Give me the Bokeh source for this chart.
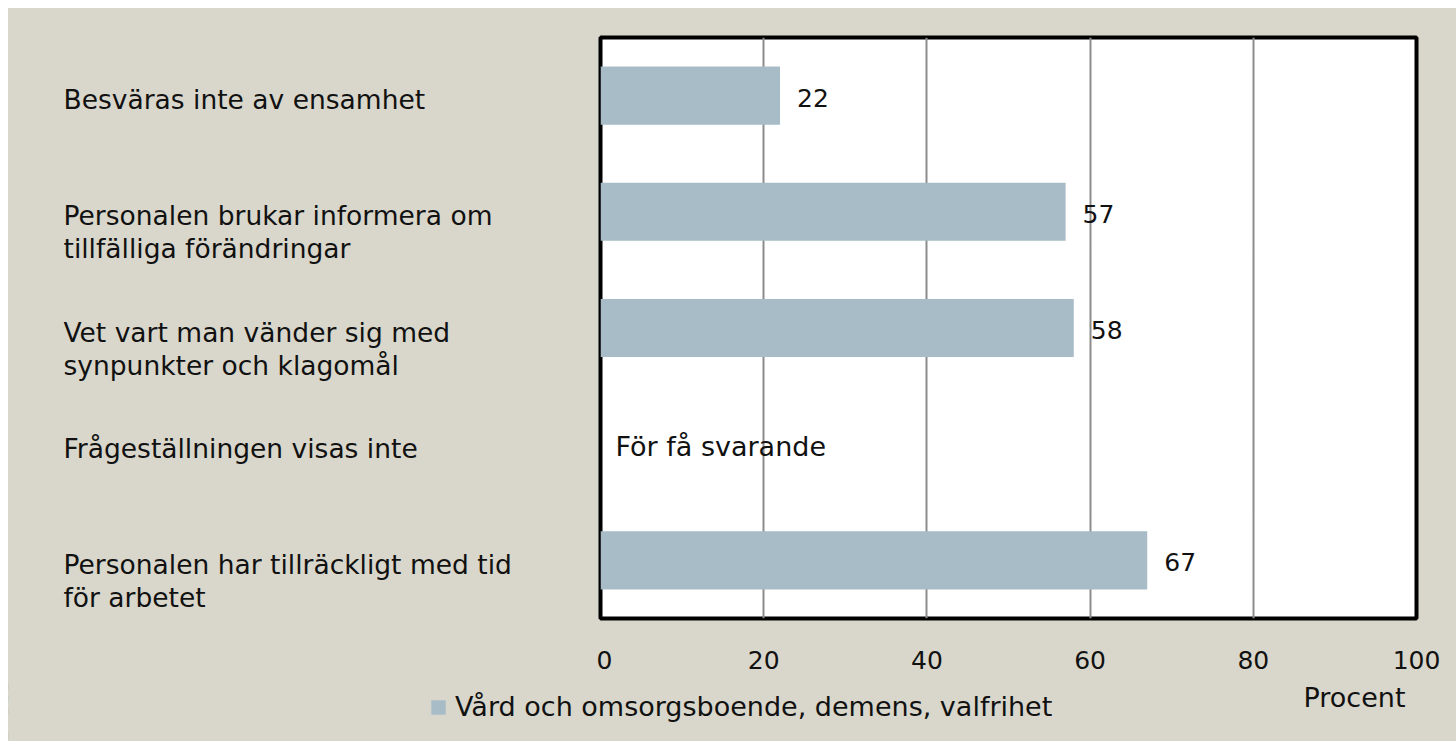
from bokeh.plotting import figure
from bokeh.models import (FactorRange, Range1d, Label, ColumnDataSource,
                          Legend, LegendItem, FixedTicker, Spacer)
from bokeh.layouts import row, column
from bokeh.embed import file_html
from bokeh.resources import INLINE
from bokeh.core.properties import value

# ---- data ----
categories = [
    "Besväras inte av ensamhet",
    "Personalen brukar informera om\ntillfälliga förändringar",
    "Vet vart man vänder sig med\nsynpunkter och klagomål",
    "Frågeställningen visas inte",
    "Personalen har tillräckligt med tid\nför arbetet",
]
values = [22, 57, 58, None, 67]
notes = ["", "", "", "För få svarande", ""]
x_ticks = [0, 20, 40, 60, 80, 100]
series_name = "Vård och omsorgsboende, demens, valfrihet"
x_unit = "Procent"

# ---- style ----
FONT = "DejaVu Sans"
BG = "#D9D7CB"
BAR = "#A7BCC7"
TXT = "#111111"
CAT_SIZE = "26.5px"
TEXT_SIZE = "27px"
NUM_SIZE = "25px"

y_range = FactorRange(factors=list(reversed(categories)), range_padding=0)

bar_src = ColumnDataSource(dict(
    y=[c for c, v in zip(categories, values) if v is not None],
    v=[v for v in values if v is not None],
    t=[str(v) for v in values if v is not None],
))

# ---- main chart ----
p = figure(width=860, height=672, output_backend="svg", toolbar_location=None,
           y_range=y_range, x_range=Range1d(0, 100),
           min_border_left=4, min_border_right=40, min_border_top=29,
           min_border_bottom=62)
p.background_fill_color = "white"
p.border_fill_color = BG
p.outline_line_color = "black"
p.outline_line_width = 4

r = p.hbar(y="y", right="v", left=0, height=0.5, source=bar_src,
           fill_color=BAR, line_color=None)
p.text(x="v", y="y", text="t", source=bar_src, x_offset=17, y_offset=2,
       text_baseline="middle", text_align="left", text_font=value(FONT),
       text_font_size=NUM_SIZE, text_color=TXT)

note_src = ColumnDataSource(dict(
    y=[c for c, n in zip(categories, notes) if n],
    t=[n for n in notes if n],
    x=[0 for n in notes if n],
))
p.text(x="x", y="y", text="t", source=note_src, x_offset=15, y_offset=2,
       text_baseline="middle", text_align="left", text_font=value(FONT),
       text_font_size=TEXT_SIZE, text_color=TXT)

p.yaxis.visible = False
p.xaxis.ticker = FixedTicker(ticks=x_ticks)
p.xaxis.axis_line_color = None
p.xaxis.major_tick_line_color = None
p.xaxis.minor_tick_line_color = None
p.xaxis.major_label_text_font = FONT
p.xaxis.major_label_text_font_size = NUM_SIZE
p.xaxis.major_label_text_color = TXT
p.xaxis.major_label_standoff = 26
p.xgrid.ticker = FixedTicker(ticks=x_ticks[1:-1])
p.xgrid.grid_line_color = "#8C8C8C"
p.xgrid.grid_line_width = 2
p.ygrid.grid_line_color = None

# ---- category labels (left) ----
ly, lt, lo = [], [], []
for c in categories:
    for j, line in enumerate(c.split("\n")):
        ly.append(c)
        lt.append(line)
        lo.append(4 + 33 * j)
lab_src = ColumnDataSource(dict(y=ly, t=lt, o=lo, x=[0] * len(ly)))
pl = figure(width=588, height=672, output_backend="svg", toolbar_location=None,
            y_range=y_range, x_range=Range1d(0, 1),
            min_border_left=55, min_border_right=0, min_border_top=29,
            min_border_bottom=62)
pl.text(x="x", y="y", text="t", source=lab_src, y_offset="o",
        text_baseline="middle", text_align="left", text_font=value(FONT),
        text_font_size=CAT_SIZE, text_color=TXT)
pl.axis.visible = False
pl.grid.visible = False
pl.outline_line_color = None
pl.background_fill_color = None
pl.border_fill_color = BG

# ---- bottom strip: legend and unit ----
# the series renderer here only feeds the legend; the x range keeps its bars out of view
pb = figure(width=1448, height=61, output_backend="svg", toolbar_location=None,
            x_range=Range1d(1000, 2448), y_range=FactorRange(factors=list(reversed(categories))),
            min_border_left=0, min_border_right=0, min_border_top=0,
            min_border_bottom=0)
pb.axis.visible = False
pb.grid.visible = False
pb.outline_line_color = None
pb.background_fill_color = None
pb.border_fill_color = BG
proxy = pb.hbar(y="y", right="v", left=0, height=0.5, source=bar_src,
                fill_color=BAR, line_color=None)

legend = Legend(items=[LegendItem(label=series_name, renderers=[proxy])],
                location=(421, 19), orientation="horizontal",
                background_fill_alpha=0, border_line_color=None,
                label_text_font=FONT, label_text_font_size=TEXT_SIZE,
                label_text_color=TXT,
                glyph_width=18, glyph_height=18, label_standoff=8,
                padding=0, margin=0)
pb.add_layout(legend)
pb.add_layout(Label(x=1295, y=44, x_units="screen", y_units="screen", text=x_unit,
                    text_font=FONT, text_font_size=TEXT_SIZE, text_color=TXT,
                    text_baseline="middle"))

inner = column(row(pl, p, styles={"background-color": BG}), pb,
               styles={"background-color": BG})
layout = column(Spacer(height=8), row(Spacer(width=8), inner))

open("out.html", "w").write(file_html(layout, INLINE))
